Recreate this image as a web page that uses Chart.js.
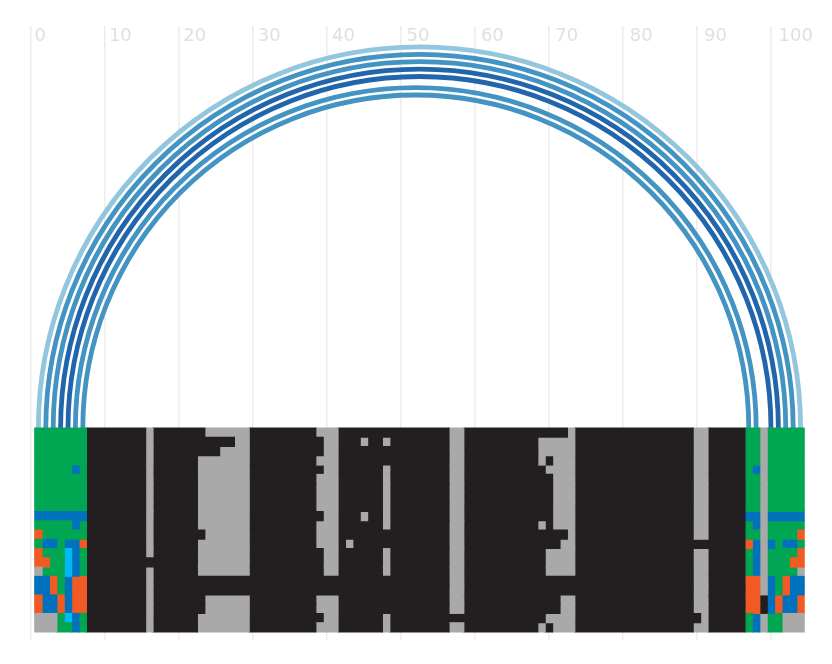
<!DOCTYPE html>
<html lang="en">

<head>
    <meta charset="UTF-8">
    <script src="https://cdn.jsdelivr.net/npm/chart.js"></script>
    <title>Arc diagram with alignment</title>
    <style>
        body { margin: 0; background: #fff; }
        canvas { display: block; }
    </style>
</head>

<body>
    <canvas id="myChart" width="832" height="664"></canvas>
    <script>

        // base pairs drawn as arcs: from column, to column, colour
        const arcFrom = [1, 2, 3, 4, 5, 6, 7];
        const arcTo = [104, 103, 102, 101, 100, 98, 97];
        const arcColors = ['#92c5de', '#4393c3', '#4393c3', '#2166ac', '#2166ac', '#4393c3', '#4393c3'];

        const cellColors = { G: '#00a651', B: '#0071bc', O: '#f15a22', C: '#00b9f5', K: '#231f20', A: '#a9a9a9' };

        const rowNumbers = [1, 2, 3, 4, 5, 6, 7, 8, 9, 10, 11, 12, 13, 14, 15, 16, 17, 18, 19, 20, 21, 22];

        // columns 1-7
        const leftCells = [
            'GGGGGGG', 'GGGGGGG', 'GGGGGGG', 'GGGGGGG', 'GGGGGBG', 'GGGGGGG', 'GGGGGGG', 'GGGGGGG', 'GGGGGGG',
            'BBBBBBB', 'GGGGGBG', 'OGGGGGG', 'GBBGBBO', 'OGGGCBG', 'OOGGCBG', 'AGGGCBG', 'BBOGBOO', 'BBOGBOO',
            'OBBOBOO', 'OBBOBOO', 'AAAGCBG', 'AAAGGBG'
        ];

        // columns 97-104
        const rightCells = [
            'GGAGGGGG', 'GGAGGGGG', 'GGAGGGGG', 'GGAGGGGG', 'GBAGGGGG', 'GGAGGGGG', 'GGAGGGGG', 'GGAGGGGG', 'GGAGGGGG',
            'BBABBBBB', 'GBAGGGGG', 'GGAGGGGO', 'OBABGBBG', 'GBAGGGGO', 'GBAGGGOO', 'GBAGGGGA', 'OOABGOBB', 'OOABGOBB',
            'OOKBOBBO', 'OOKBOBBO', 'GBAGGAAA', 'GBAGGAAA'
        ];

        // columns 8-96 are black apart from these grey runs
        const greyRuns = [
            [[16, 16], [24, 29], [39, 41], [57, 58], [73, 73], [90, 91]],
            [[16, 16], [28, 29], [40, 41], [45, 45], [48, 48], [57, 58], [69, 73], [90, 91]],
            [[16, 16], [26, 29], [40, 41], [57, 58], [69, 73], [90, 91]],
            [[16, 16], [23, 29], [39, 41], [57, 58], [69, 69], [71, 73], [90, 91]],
            [[16, 16], [23, 29], [40, 41], [48, 48], [57, 58], [70, 73], [90, 91]],
            [[16, 16], [23, 29], [39, 41], [48, 48], [57, 58], [71, 73], [90, 91]],
            [[16, 16], [23, 29], [39, 41], [48, 48], [57, 58], [71, 73], [90, 91]],
            [[16, 16], [23, 29], [39, 41], [48, 48], [57, 58], [71, 73], [90, 91]],
            [[16, 16], [23, 29], [39, 41], [48, 48], [57, 58], [71, 73], [90, 91]],
            [[16, 16], [23, 29], [40, 41], [45, 45], [48, 48], [57, 58], [71, 73], [90, 91]],
            [[16, 16], [23, 29], [39, 41], [48, 48], [57, 58], [69, 69], [71, 73], [90, 91]],
            [[16, 16], [24, 29], [39, 41], [57, 58], [73, 73], [90, 91]],
            [[16, 16], [23, 29], [39, 41], [43, 43], [57, 58], [72, 73]],
            [[16, 16], [23, 29], [40, 41], [48, 48], [57, 58], [70, 73], [90, 91]],
            [[23, 29], [40, 41], [48, 48], [57, 58], [70, 73], [90, 91]],
            [[16, 16], [23, 29], [40, 41], [48, 48], [57, 58], [70, 73], [90, 91]],
            [[16, 16], [57, 58], [90, 91]],
            [[16, 16], [57, 58], [90, 91]],
            [[16, 16], [24, 29], [39, 41], [57, 58], [72, 73], [90, 91]],
            [[16, 16], [24, 29], [39, 41], [57, 58], [72, 73], [90, 91]],
            [[16, 16], [23, 29], [40, 41], [48, 48], [70, 73], [91, 91]],
            [[16, 16], [23, 29], [39, 41], [48, 48], [57, 58], [69, 69], [71, 73], [90, 91]]
        ];

        // one row of letters -> runs of the same colour, so neighbouring cells get no seam
        function rowRuns(r) {
            const cells = [...leftCells[r]];
            for (let c = 8; c <= 96; c++) cells.push('K');
            cells.push(...rightCells[r]);
            greyRuns[r].forEach(([a, b]) => {
                for (let c = a; c <= b; c++) cells[c - 1] = 'A';
            });
            const runs = [];
            cells.forEach((letter, i) => {
                const last = runs[runs.length - 1];
                if (last && last.letter === letter) last.end = i + 1.5;
                else runs.push({ letter: letter, start: i + 0.5, end: i + 1.5 });
            });
            return runs;
        }

        const allRuns = rowNumbers.map((n, r) => rowRuns(r));
        const maxRuns = Math.max(...allRuns.map(runs => runs.length));

        const datasets = [];
        for (let k = 0; k < maxRuns; k++) {
            datasets.push({
                data: allRuns.map(runs => runs[k] ? [runs[k].start, runs[k].end] : null),
                backgroundColor: allRuns.map(runs => runs[k] ? cellColors[runs[k].letter] : 'transparent'),
                borderWidth: 0,
                inflateAmount: 0.5,
                grouped: false,
                barPercentage: 1,
                categoryPercentage: 1
            });
        }

        const arcPlugin = {
            id: 'arcs',
            beforeDatasetsDraw: (chart) => {
                const ctx = chart.ctx;
                const x = chart.scales.x;
                const baseline = chart.scales.y.getPixelForValue(0.5);
                ctx.save();
                ctx.lineWidth = 4.8;
                arcFrom.forEach((from, i) => {
                    const x1 = x.getPixelForValue(from);
                    const x2 = x.getPixelForValue(arcTo[i]);
                    ctx.beginPath();
                    ctx.strokeStyle = arcColors[i];
                    ctx.arc((x1 + x2) / 2, baseline, (x2 - x1) / 2, Math.PI, 0);
                    ctx.stroke();
                });
                ctx.restore();
            }
        };

        const zeroHeight = (scale) => {
            scale.height = 0;
            scale.paddingLeft = 0;
            scale.paddingRight = 0;
        };

        new Chart(document.getElementById('myChart'), {
            type: 'bar',
            data: { labels: rowNumbers, datasets: datasets },
            options: {
                indexAxis: 'y',
                responsive: false,
                animation: false,
                layout: { padding: { left: 31, right: 27, top: 26, bottom: 24 } },
                plugins: { legend: { display: false }, tooltip: { enabled: false } },
                scales: {
                    x: {
                        type: 'linear',
                        position: 'top',
                        min: 0,
                        max: 104.6,
                        border: { display: false },
                        grid: { color: '#ececec', lineWidth: 1.5, drawTicks: false },
                        ticks: { stepSize: 10, includeBounds: false, display: false },
                        afterFit: zeroHeight
                    },
                    // tick labels sit a little wider apart than the grid lines
                    xLabels: {
                        type: 'linear',
                        axis: 'x',
                        position: 'top',
                        min: 0,
                        max: 104.03,
                        border: { display: false },
                        grid: { display: false },
                        ticks: {
                            stepSize: 10,
                            autoSkip: false,
                            includeBounds: false,
                            maxRotation: 0,
                            mirror: true,
                            align: 'start',
                            labelOffset: 3.5,
                            padding: 0,
                            color: '#e0e0e0',
                            font: { family: 'DejaVu Sans', size: 18 }
                        },
                        afterFit: zeroHeight
                    },
                    y: {
                        type: 'linear',
                        display: false,
                        offset: false,
                        reverse: true,
                        min: -42.853,
                        max: 23.363
                    }
                }
            },
            plugins: [arcPlugin]
        });
    </script>
</body>

</html>
